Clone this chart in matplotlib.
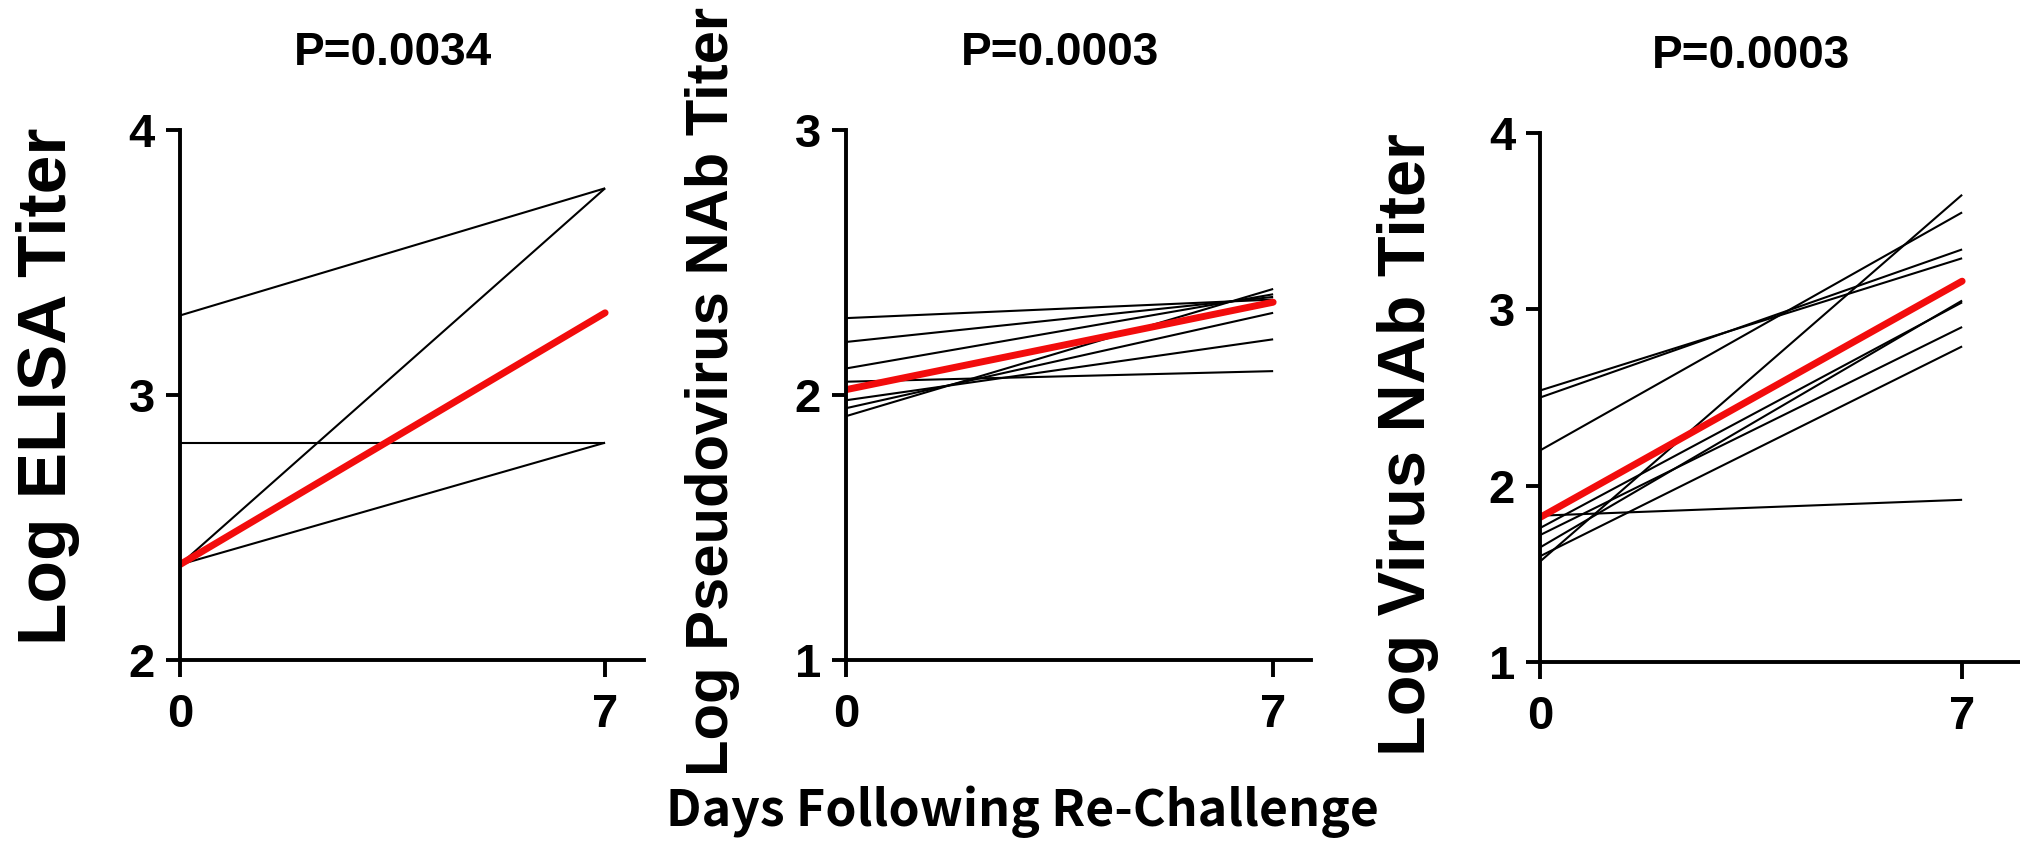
import matplotlib
matplotlib.use('Agg')
import matplotlib.pyplot as plt
import matplotlib.transforms as mtransforms

# days sampled
days = [0, 7]

# ELISA titers (log), one line per animal
elisa_d0 = [3.30, 2.82, 2.36, 2.36]
elisa_d7 = [3.78, 2.82, 3.78, 2.82]
elisa_mean = [2.36, 3.31]

# pseudovirus NAb titers (log)
pseudo_d0 = [2.29, 2.20, 2.10, 2.05, 1.98, 1.95, 1.92]
pseudo_d7 = [2.36, 2.37, 2.38, 2.09, 2.21, 2.31, 2.40]
pseudo_mean = [2.02, 2.35]

# virus NAb titers (log)
virus_d0 = [2.54, 2.50, 2.20, 1.83, 1.76, 1.72, 1.65, 1.60, 1.57]
virus_d7 = [3.29, 3.34, 3.55, 1.92, 3.04, 2.90, 3.05, 2.79, 3.65]
virus_mean = [1.82, 3.16]

titles = ['P=0.0034', 'P=0.0003', 'P=0.0003']
ylabels = ['Log ELISA Titer', 'Log Pseudovirus NAb Titer', 'Log Virus NAb Titer']
xlabel = 'Days Following Re-Challenge'

plt.rcParams['font.family'] = ['Liberation Sans', 'DejaVu Sans']
plt.rcParams['font.weight'] = 'bold'

fig = plt.figure(figsize=(20.2, 8.59), dpi=100)

# axes boxes in figure fraction: left, bottom, width, height, xmax
boxes = [
    (0.0891, 0.2317, 0.2297, 0.617, 7.64),
    (0.4188, 0.2317, 0.2302, 0.617, 7.62),
    (0.7624, 0.2293, 0.2376, 0.6158, 7.96),
]
ylims = [(2, 4), (1, 3), (1, 4)]
ylabel_pos = [(0.0238, 0.5506), (0.3525, 0.544), (0.697, 0.483)]
ylabel_size = [50, 43, 48]

panels = [
    (elisa_d0, elisa_d7, elisa_mean),
    (pseudo_d0, pseudo_d7, pseudo_mean),
    (virus_d0, virus_d7, virus_mean),
]

for i in range(3):
    l, b, w, h, xmax = boxes[i]
    ax = fig.add_axes([l, b, w, h])
    d0, d7, mean = panels[i]
    for a, c in zip(d0, d7):
        ax.plot(days, [a, c], color='black', lw=1.5, solid_capstyle='butt')
    ax.plot(days, mean, color='#f20c0c', lw=5, solid_capstyle='round', zorder=5)

    ax.set_xlim(0, xmax)
    ax.set_ylim(*ylims[i])
    ax.set_xticks(days)
    ax.set_yticks(range(ylims[i][0], ylims[i][1] + 1))
    ax.spines['top'].set_visible(False)
    ax.spines['right'].set_visible(False)
    ax.spines['left'].set_linewidth(2.8)
    ax.spines['bottom'].set_linewidth(2.8)
    ax.spines['left'].set_zorder(6)
    ax.tick_params(axis='y', length=10, width=2.8, pad=8, labelsize=34)
    ax.tick_params(axis='x', length=12, width=2.8, pad=12, labelsize=34)

    trans = mtransforms.blended_transform_factory(ax.transData, ax.transAxes)
    ax.text(3.5, 1.146, titles[i], transform=trans, ha='center', va='center',
            fontsize=33, fontweight='bold')

    fig.text(ylabel_pos[i][0], ylabel_pos[i][1], ylabels[i], rotation=90,
             ha='center', va='center', fontsize=ylabel_size[i], fontweight='bold')

fig.text(0.506, 0.055, xlabel, ha='center', va='center', fontsize=36,
         fontweight='bold', family=['Noto Sans CJK SC', 'DejaVu Sans'])

fig.savefig('out.png', dpi=100)
